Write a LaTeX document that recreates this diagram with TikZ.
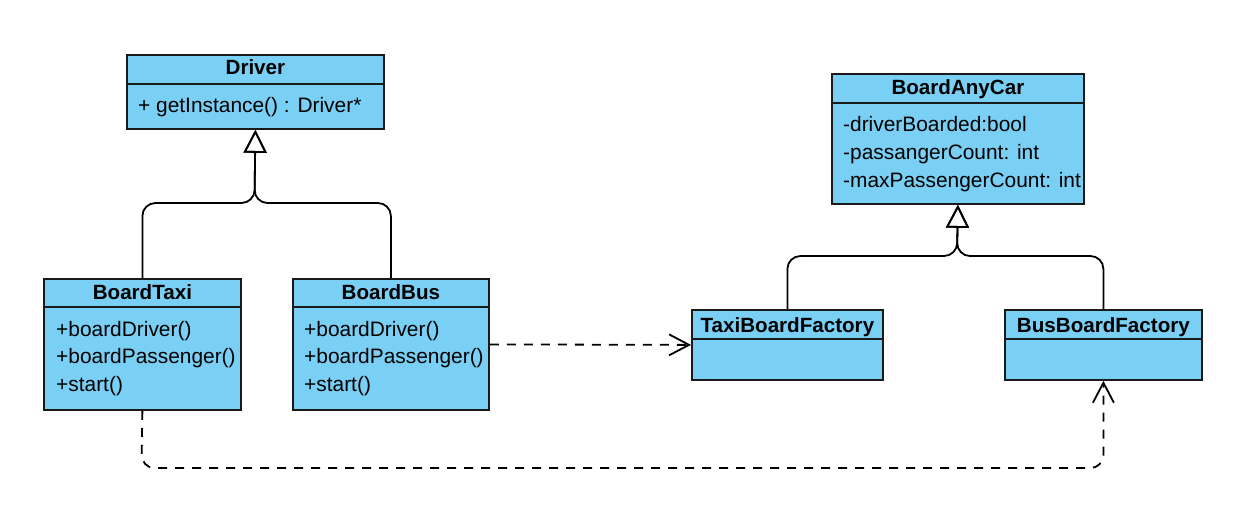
\documentclass[tikz,border=0pt]{standalone}
\usepackage{fontspec}
\setmainfont{Liberation Sans}
\usetikzlibrary{arrows.meta,calc}
\definecolor{clsfill}{RGB}{122,207,244}
\definecolor{clsline}{RGB}{26,26,26}
\begin{document}
\begin{tikzpicture}[x=1pt,y=-1pt,
  cls/.style={draw=clsline, fill=clsfill, line width=1.8pt, anchor=north west, inner sep=0pt},
  divider/.style={draw=clsline, line width=1.8pt},
  ttl/.style={anchor=base, inner sep=0pt, font=\fontsize{20.6}{24}\selectfont\bfseries},
  mem/.style={anchor=base west, inner sep=0pt, font=\fontsize{20.9}{24}\selectfont},
  gen/.style={draw=black, line width=1.8pt, rounded corners=13pt, -{Triangle[open, length=23pt, width=23pt]}},
  dep/.style={draw=black, line width=1.8pt, dash pattern=on 9pt off 8pt, rounded corners=13pt, -{Straight Barb[length=20pt, width=21pt]}}
]
\useasboundingbox (0,0) rectangle (1243,511);

% Driver
\node[cls, minimum width=257pt, minimum height=74pt] (driver) at (126,54) {};
\draw[divider] ([yshift=-30pt]driver.north west) -- ([yshift=-30pt]driver.north east);
\node[ttl] (driverT) at ([yshift=-21pt]driver.north) {Driver};
\node[mem] (driverM1) at ([xshift=12pt,yshift=-58pt]driver.north west) {+ getInstance() : Driver*};

% BoardTaxi
\node[cls, minimum width=197pt, minimum height=131pt] (taxi) at (43,278) {};
\draw[divider] ([yshift=-29pt]taxi.north west) -- ([yshift=-29pt]taxi.north east);
\node[ttl] (taxiT) at ([yshift=-21pt]taxi.north) {BoardTaxi};
\node[mem] (taxiM1) at ([xshift=13pt,yshift=-58pt]taxi.north west) {+boardDriver()};
\node[mem] (taxiM2) at ([xshift=13pt,yshift=-85.5pt]taxi.north west) {+boardPassenger()};
\node[mem] (taxiM3) at ([xshift=13pt,yshift=-113pt]taxi.north west) {+start()};

% BoardBus
\node[cls, minimum width=196pt, minimum height=131pt] (bus) at (292,278) {};
\draw[divider] ([yshift=-29pt]bus.north west) -- ([yshift=-29pt]bus.north east);
\node[ttl] (busT) at ([yshift=-21pt]bus.north) {BoardBus};
\node[mem] (busM1) at ([xshift=12pt,yshift=-58pt]bus.north west) {+boardDriver()};
\node[mem] (busM2) at ([xshift=12pt,yshift=-85.5pt]bus.north west) {+boardPassenger()};
\node[mem] (busM3) at ([xshift=12pt,yshift=-113pt]bus.north west) {+start()};

% BoardAnyCar
\node[cls, minimum width=252pt, minimum height=130pt] (anycar) at (831,73) {};
\draw[divider] ([yshift=-30pt]anycar.north west) -- ([yshift=-30pt]anycar.north east);
\node[ttl] (anycarT) at ([yshift=-22pt]anycar.north) {BoardAnyCar};
\node[mem] (anycarM1) at ([xshift=12pt,yshift=-58pt]anycar.north west) {-driverBoarded:bool};
\node[mem] (anycarM2) at ([xshift=12pt,yshift=-86pt]anycar.north west) {-passangerCount: int};
\node[mem] (anycarM3) at ([xshift=12pt,yshift=-114pt]anycar.north west) {-maxPassengerCount: int};

% TaxiBoardFactory
\node[cls, minimum width=191pt, minimum height=70pt] (taxifac) at (691,309) {};
\draw[divider] ([yshift=-30pt]taxifac.north west) -- ([yshift=-30pt]taxifac.north east);
\node[ttl] (taxifacT) at ([yshift=-23pt]taxifac.north) {TaxiBoardFactory};

% BusBoardFactory
\node[cls, minimum width=197pt, minimum height=70pt] (busfac) at (1004,309) {};
\draw[divider] ([yshift=-30pt]busfac.north west) -- ([yshift=-30pt]busfac.north east);
\node[ttl] (busfacT) at ([yshift=-23pt]busfac.north) {BusBoardFactory};

% junction coordinates
\coordinate (dj) at (254.5,203);
\coordinate (aj) at (957,256);
\coordinate (low) at (141.5,468);

% generalizations
\draw[gen] (taxi.north) |- (dj) -- (driver.south);
\draw[gen] (bus.north) |- (dj) -- (driver.south);
\draw[gen] (taxifac.north) |- (aj) -- (anycar.south);
\draw[gen] (busfac.north) |- (aj) -- (anycar.south);

% dependencies
\draw[dep] (bus.east) -- (taxifac.west);
\draw[dep] (taxi.south) -- (low) -| (busfac.south);
\end{tikzpicture}
\end{document}
